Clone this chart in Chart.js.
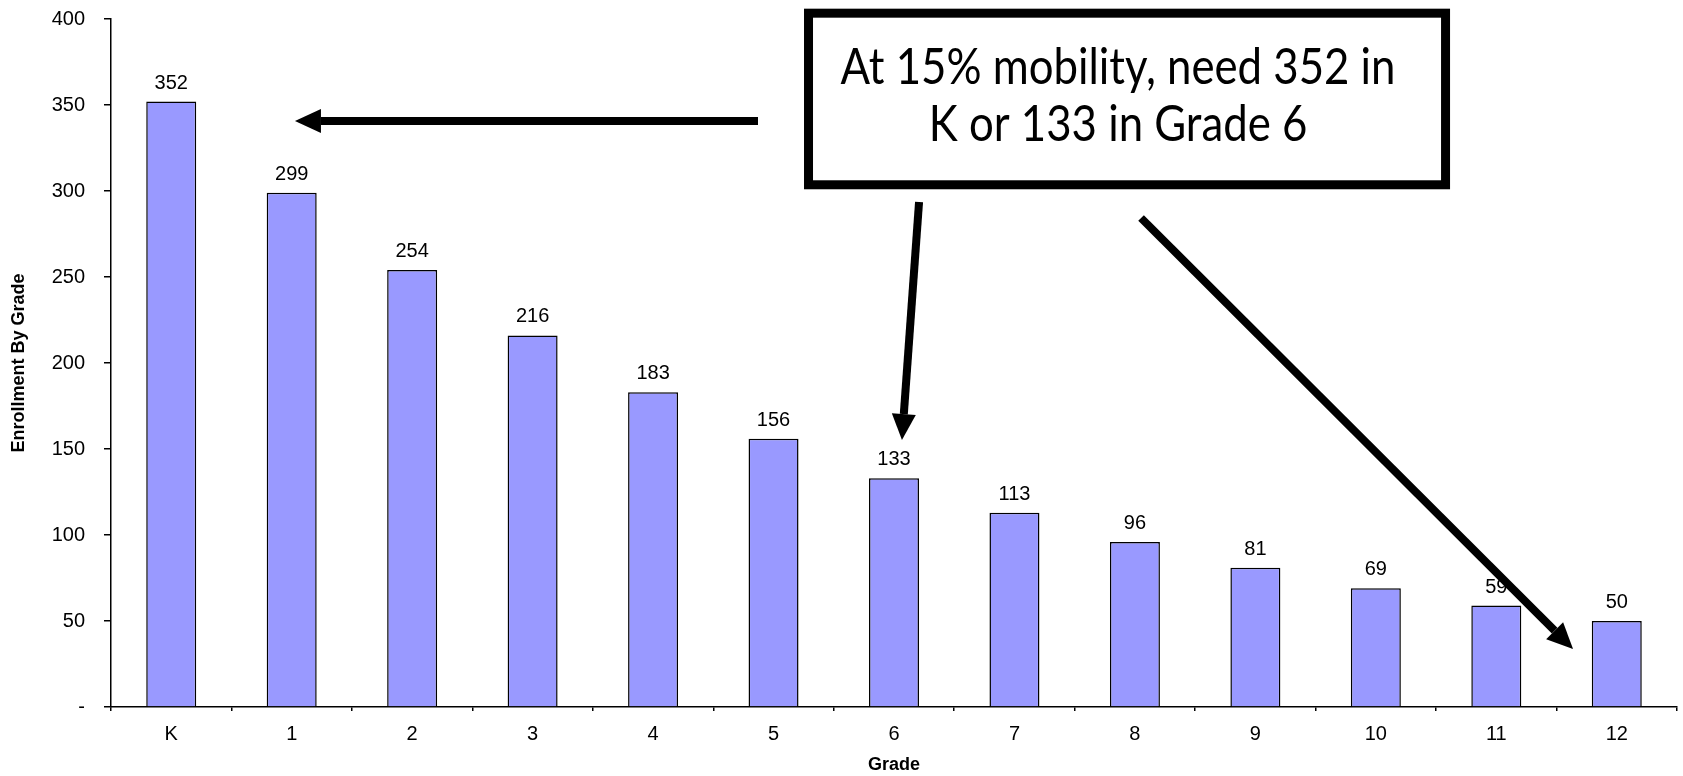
<!DOCTYPE html>
<html>
<head>
<meta charset="utf-8">
<script src="https://cdn.jsdelivr.net/npm/chart.js@4.4.1/dist/chart.umd.min.js"></script>
<style>
    body { margin: 0; background: #fff; }
    #wrap { width: 1683px; height: 776px; position: relative; }
</style>
</head>
<body>
<div id="wrap"><canvas id="myChart"></canvas></div>
<script>
var grades = ['K', '1', '2', '3', '4', '5', '6', '7', '8', '9', '10', '11', '12'];
var enrollment = [352, 299, 254, 216, 183, 156, 133, 113, 96, 81, 69, 59, 50];
var calloutLines = ['At 15% mobility, need 352 in', 'K or 133 in Grade 6'];

// callout box + arrows, placed in axis units (category index, value)
var callout = { x1: 5.253, x2: 10.616, y1: 406, y2: 301 };
var arrows = [
    { from: [4.871, 340.7], to: [1.027, 340.7] },
    { from: [6.208, 293.6], to: [6.066, 155.2] },
    { from: [8.051, 284.3], to: [11.637, 33.7] }
];

var fontFamily = 'Arial, "Liberation Sans", sans-serif';
var tickFont = { family: fontFamily, size: 20 };
var titleFont = { family: fontFamily, size: 18, weight: 'bold' };

var valueLabels = {
    id: 'valueLabels',
    afterDatasetsDraw: function (chart) {
        var ctx = chart.ctx;
        var meta = chart.getDatasetMeta(0);
        ctx.save();
        ctx.font = '20px ' + fontFamily;
        ctx.fillStyle = '#000';
        ctx.textAlign = 'center';
        ctx.textBaseline = 'alphabetic';
        meta.data.forEach(function (bar, i) {
            ctx.fillText(enrollment[i], bar.x, bar.y - 13);
        });
        ctx.restore();
    }
};

function drawArrow(ctx, x0, y0, x1, y1) {
    var ang = Math.atan2(y1 - y0, x1 - x0);
    var headLen = 26, headW = 12;
    var bx = x1 - Math.cos(ang) * headLen;
    var by = y1 - Math.sin(ang) * headLen;
    ctx.beginPath();
    ctx.moveTo(x0, y0);
    ctx.lineTo(bx, by);
    ctx.lineWidth = 8;
    ctx.strokeStyle = '#000';
    ctx.stroke();
    ctx.beginPath();
    ctx.moveTo(x1, y1);
    ctx.lineTo(bx + Math.sin(ang) * headW, by - Math.cos(ang) * headW);
    ctx.lineTo(bx - Math.sin(ang) * headW, by + Math.cos(ang) * headW);
    ctx.closePath();
    ctx.fillStyle = '#000';
    ctx.fill();
}

var annotations = {
    id: 'annotations',
    afterDraw: function (chart) {
        var ctx = chart.ctx;
        var xs = chart.scales.x, ys = chart.scales.y;
        var px = function (v) { return xs.getPixelForValue(v); };
        var py = function (v) { return ys.getPixelForValue(v); };
        ctx.save();

        // box
        var l = px(callout.x1), r = px(callout.x2), t = py(callout.y1), b = py(callout.y2);
        ctx.fillStyle = '#fff';
        ctx.fillRect(l, t, r - l, b - t);
        ctx.lineWidth = 9;
        ctx.strokeStyle = '#000';
        ctx.strokeRect(l + 4.5, t + 4.5, r - l - 9, b - t - 9);

        // text
        ctx.font = '50px Lato, "Open Sans", sans-serif';
        ctx.fillStyle = '#000';
        ctx.textAlign = 'center';
        ctx.textBaseline = 'alphabetic';
        var w = ctx.measureText(calloutLines[0]).width;
        var sx = 555 / w;
        var cx = l + 314;
        [t + 75, t + 132].forEach(function (base, i) {
            ctx.save();
            ctx.translate(cx, base);
            ctx.scale(sx, 1);
            ctx.fillText(calloutLines[i], 0, 0);
            ctx.restore();
        });

        arrows.forEach(function (a) {
            drawArrow(ctx, px(a.from[0]), py(a.from[1]), px(a.to[0]), py(a.to[1]));
        });
        ctx.restore();
    }
};

var cdata = {
    labels: grades,
    datasets: [{
        label: 'Enrollment',
        data: enrollment,
        backgroundColor: '#9999ff',
        borderColor: '#000',
        borderWidth: 1.5,
        barPercentage: 0.415,
        categoryPercentage: 1
    }]
};

var config = {
    type: 'bar',
    data: cdata,
    options: {
        responsive: true,
        maintainAspectRatio: false,
        animation: false,
        layout: { padding: { top: 19, right: 6, left: 0, bottom: 0 } },
        plugins: {
            legend: { display: false },
            tooltip: { enabled: false }
        },
        scales: {
            x: {
                grid: { display: true, drawOnChartArea: false, tickLength: 4, color: '#000', lineWidth: 1.5 },
                border: { color: '#000', width: 1.5 },
                ticks: { color: '#000', font: tickFont, padding: 11, maxRotation: 0 },
                title: { display: true, text: 'Grade', color: '#000', font: titleFont, padding: { top: 0, bottom: 0 } },
                afterFit: function (scale) { scale.height = 69; }
            },
            y: {
                min: 0,
                max: 400,
                ticks: {
                    stepSize: 50,
                    color: '#000',
                    font: tickFont,
                    padding: 19,
                    callback: function (v) { return v === 0 ? '-' : v; }
                },
                grid: { display: true, drawOnChartArea: false, tickLength: 7, color: '#000', lineWidth: 1.5 },
                border: { color: '#000', width: 1.5 },
                title: { display: true, text: 'Enrollment By Grade', color: '#000', font: titleFont, padding: { top: 8, bottom: 0 } },
                afterFit: function (scale) {
                    scale.width = 111;
                    scale.paddingTop = 0;
                    scale.paddingBottom = 0;
                }
            }
        }
    },
    plugins: [valueLabels, annotations]
};

var myChart = new Chart(document.getElementById('myChart'), config);
</script>
</body>
</html>
